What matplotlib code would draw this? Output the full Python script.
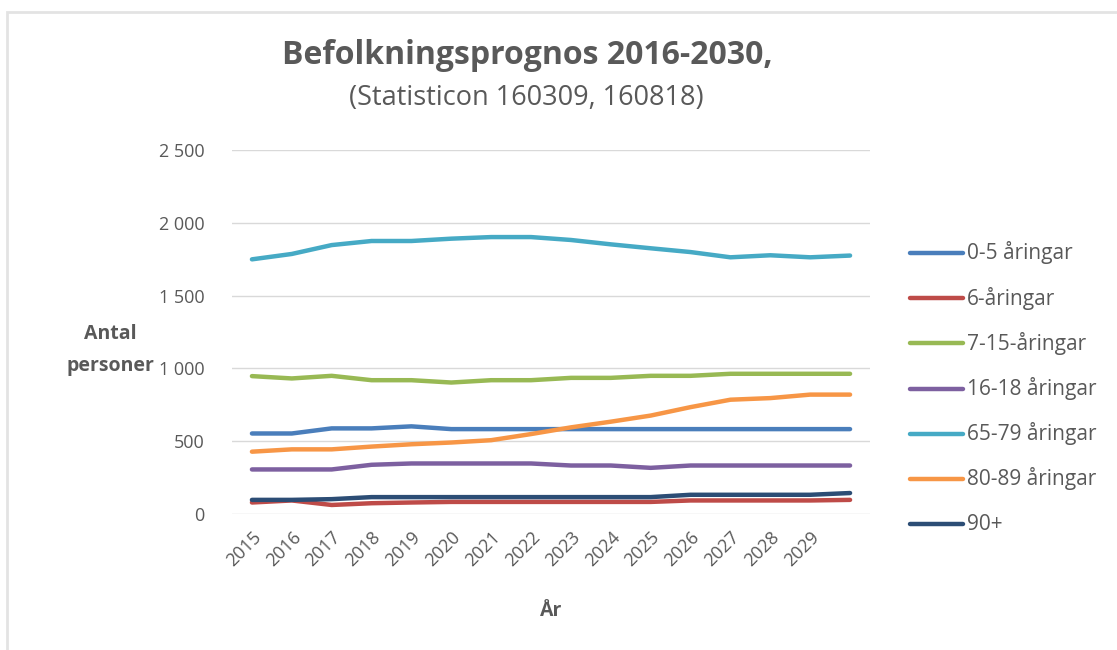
import matplotlib.pyplot as plt
from matplotlib.lines import Line2D
from matplotlib.patches import Rectangle

plt.rcParams['font.family'] = ['Open Sans', 'DejaVu Sans']

years = list(range(2015, 2031))
year_labels = [str(y) for y in range(2015, 2030)] + [""]

age_0_5 = [553, 553, 588, 588, 602, 583, 583, 583, 583, 583, 583, 583, 583, 583, 583, 583]
age_6 = [79, 93, 62, 74, 79, 83, 83, 83, 83, 83, 83, 93, 93, 93, 93, 97]
age_7_15 = [947, 931, 949, 919, 919, 903, 919, 919, 935, 935, 949, 949, 963, 963, 963, 963]
age_16_18 = [306, 306, 306, 338, 347, 347, 347, 347, 333, 333, 317, 333, 333, 333, 333, 333]
age_65_79 = [1749, 1786, 1847, 1875, 1875, 1891, 1902, 1902, 1882, 1852, 1825, 1799, 1763, 1777, 1763, 1775]
age_80_89 = [428, 444, 444, 463, 479, 491, 507, 549, 595, 634, 676, 734, 785, 796, 820, 820]
age_90 = [97, 97, 102, 116, 116, 116, 116, 116, 116, 116, 116, 132, 132, 132, 132, 144]

series = [
    ("0-5 åringar", age_0_5, "#4a7ebb"),
    ("6-åringar", age_6, "#be4b48"),
    ("7-15-åringar", age_7_15, "#98b954"),
    ("16-18 åringar", age_16_18, "#7d60a0"),
    ("65-79 åringar", age_65_79, "#46aac5"),
    ("80-89 åringar", age_80_89, "#f79646"),
    ("90+", age_90, "#2c4d75"),
]

fig = plt.figure(figsize=(11.17, 6.5), dpi=100)
ax = fig.add_axes([232 / 1117, 1 - 514 / 650, 638 / 1117, 364 / 650])

x = list(range(len(years)))
for name, vals, col in series:
    ax.plot(x, vals, color=col, lw=3.2, solid_capstyle='round', solid_joinstyle='round', label=name)

ax.set_xlim(-0.5, len(years) - 0.5)
ax.set_ylim(0, 2500)
ax.set_yticks([0, 500, 1000, 1500, 2000, 2500])
ax.set_yticklabels(["0", "500", "1 000", "1 500", "2 000", "2 500"], fontsize=13, color="#595959")
ax.set_xticks(x)
ax.set_xticklabels(year_labels, rotation=45, ha='right', rotation_mode='anchor', fontsize=13, color="#595959")
ax.tick_params(axis='y', length=0, pad=20)
ax.tick_params(axis='x', length=0, pad=10)
ax.grid(axis='y', color="#d9d9d9", lw=1)
ax.set_axisbelow(True)
for s in ax.spines.values():
    s.set_visible(False)

fig.text(527 / 1117, 1 - 55 / 650, "Befolkningsprognos 2016-2030,", ha='center', va='center',
         fontsize=23, fontweight='bold', color="#595959")
fig.text(526 / 1117, 1 - 98 / 650, "(Statisticon 160309, 160818)", ha='center', va='center',
         fontsize=19.5, color="#595959")
fig.text(110 / 1117, 1 - 350 / 650, "Antal\npersoner", ha='center', va='center',
         fontsize=14, fontweight='bold', color="#595959", linespacing=1.75)
fig.text(551 / 1117, 1 - 611 / 650, "År", ha='center', va='center',
         fontsize=14, fontweight='bold', color="#595959")

# legend drawn by hand to match spacing
for i, (name, vals, col) in enumerate(series):
    yy = 1 - (253 + i * 45.2) / 650
    fig.add_artist(Line2D([910 / 1117, 963 / 1117], [yy, yy], color=col, lw=3.2,
                          solid_capstyle='round', transform=fig.transFigure))
    fig.text(967 / 1117, yy, name, ha='left', va='center', fontsize=15, color="#595959")

fig.add_artist(Rectangle((7 / 1117, -0.1), 1.2, 1 - 12 / 650 + 0.1, transform=fig.transFigure,
                         fill=False, edgecolor="#e3e3e3", lw=2))

fig.savefig("out.png", dpi=100)
